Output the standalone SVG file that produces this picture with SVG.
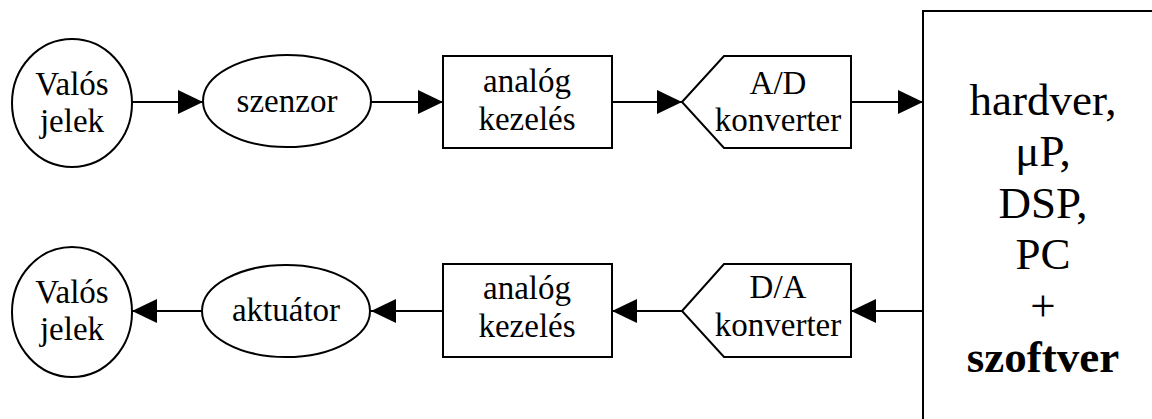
<svg xmlns="http://www.w3.org/2000/svg" width="1152" height="419" viewBox="0 0 1152 419">
<style>
.s{fill:#fff;stroke:#000;stroke-width:2}
.t{font-size:33px;fill:#000;text-anchor:middle}
.b{font-size:45px;fill:#000;text-anchor:middle}
.c{stroke:#000;stroke-width:2;fill:none;marker-end:url(#ah)}
</style>
<defs>
<marker id="ah" markerUnits="userSpaceOnUse" markerWidth="26" markerHeight="26" refX="25" refY="12" orient="auto">
<path d="M0,0 L25,12 L0,24 Z" fill="#000"/>
</marker>
</defs>
<rect width="1152" height="419" fill="#fff"/>
<g id="connectors">
<line class="c" x1="132" y1="102" x2="203" y2="102"/>
<line class="c" x1="371" y1="102" x2="443" y2="102"/>
<line class="c" x1="612" y1="102" x2="682" y2="102"/>
<line class="c" x1="851" y1="102" x2="923" y2="102"/>
<line class="c" x1="923" y1="311" x2="851" y2="311"/>
<line class="c" x1="682" y1="311" x2="612" y2="311"/>
<line class="c" x1="443" y1="311" x2="371" y2="311"/>
<line class="c" x1="202" y1="311" x2="132" y2="311"/>
</g>
<g font-family="Liberation Serif, Times New Roman, serif">
<g id="valos1">
<ellipse class="s" cx="72" cy="103" rx="60" ry="64"/>
<text class="t" x="72" y="95" font-family="Liberation Serif">Valós</text>
<text class="t" x="72" y="132" font-family="Liberation Serif">jelek</text>
</g>
<g id="szenzor">
<ellipse class="s" cx="287" cy="101" rx="84" ry="46"/>
<text class="t" x="287" y="112" font-family="Liberation Serif">szenzor</text>
</g>
<g id="analog1">
<rect class="s" x="443" y="56" width="169" height="92"/>
<text class="t" x="527" y="92" font-family="Liberation Serif">analóg</text>
<text class="t" x="527" y="130" font-family="Liberation Serif">kezelés</text>
</g>
<g id="ad">
<polygon class="s" points="682,102 724,56 851,56 851,148 724,148"/>
<text class="t" x="778" y="94" font-family="Liberation Serif">A/D</text>
<text class="t" x="778" y="131" font-family="Liberation Serif">konverter</text>
</g>
<g id="hw">
<rect class="s" x="923" y="11" width="260" height="440"/>
<text class="b" x="1043" y="115" font-family="Liberation Serif">hardver,</text>
<text class="b" x="1043" y="166" font-family="Liberation Serif">μP,</text>
<text class="b" x="1043" y="218" font-family="Liberation Serif">DSP,</text>
<text class="b" x="1043" y="269" font-family="Liberation Serif">PC</text>
<text class="b" x="1043" y="321" font-family="Liberation Serif">+</text>
<text class="b" x="1043" y="372" font-family="Liberation Serif" font-weight="bold">szoftver</text>
</g>
<g id="da">
<polygon class="s" points="682,311 724,264 851,264 851,357 724,357"/>
<text class="t" x="778" y="298" font-family="Liberation Serif">D/A</text>
<text class="t" x="778" y="336" font-family="Liberation Serif">konverter</text>
</g>
<g id="analog2">
<rect class="s" x="443" y="264" width="169" height="93"/>
<text class="t" x="527" y="299" font-family="Liberation Serif">analóg</text>
<text class="t" x="527" y="337" font-family="Liberation Serif">kezelés</text>
</g>
<g id="aktuator">
<ellipse class="s" cx="286" cy="311" rx="84" ry="46"/>
<text class="t" x="286" y="321" font-family="Liberation Serif">aktuátor</text>
</g>
<g id="valos2">
<ellipse class="s" cx="72" cy="312" rx="60" ry="65"/>
<text class="t" x="72" y="303" font-family="Liberation Serif">Valós</text>
<text class="t" x="72" y="340" font-family="Liberation Serif">jelek</text>
</g>
</g>
</svg>
